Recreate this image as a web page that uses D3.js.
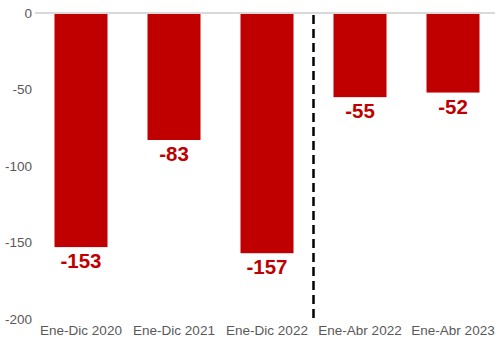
<!DOCTYPE html>
<html><head><meta charset="utf-8">
<script src="https://cdn.jsdelivr.net/npm/d3@7"></script>
<style>body{margin:0;background:#fff}svg{display:block}</style>
</head><body>
<script>
const categories = ["Ene-Dic 2020","Ene-Dic 2021","Ene-Dic 2022","Ene-Abr 2022","Ene-Abr 2023"];
const values = [-153,-83,-157,-55,-52];
const yTicks = [0,-50,-100,-150,-200];

const W=495,H=340;
const svg=d3.select("body").append("svg").attr("width",W).attr("height",H);
const x=d3.scaleBand().domain(categories).range([34.5,499.5]).paddingInner(0.43).paddingOuter(0.215);
const y=d3.scaleLinear().domain([0,-200]).range([13,319]);
const font="Liberation Sans, Arial, sans-serif";

// y axis labels
svg.append("g").selectAll("text").data(yTicks).join("text")
 .attr("x",32).attr("y",d=>y(d)).attr("dy","0.35em").attr("text-anchor","end")
 .attr("font-family",font).attr("font-size",13.5).attr("fill","#595959").text(d=>d);

// bars
svg.append("g").selectAll("rect").data(values).join("rect")
 .attr("x",(d,i)=>x(categories[i])).attr("width",x.bandwidth())
 .attr("y",y(0)).attr("height",d=>y(d)-y(0)).attr("fill","#c00000");

// zero line
svg.append("line").attr("x1",35).attr("x2",W).attr("y1",y(0)).attr("y2",y(0))
 .attr("stroke","#d9d9d9").attr("stroke-width",2);

// value labels
svg.append("g").selectAll("text").data(values).join("text")
 .attr("x",(d,i)=>x(categories[i])+x.bandwidth()/2).attr("y",d=>y(d)+21)
 .attr("text-anchor","middle").attr("font-family",font).attr("font-weight","bold")
 .attr("font-size",20.5).attr("fill","#c00000").text(d=>d);

// category labels
svg.append("g").selectAll("text").data(categories).join("text")
 .attr("x",d=>x(d)+x.bandwidth()/2).attr("y",335).attr("text-anchor","middle")
 .attr("font-family",font).attr("font-size",13.5).attr("fill","#595959").text(d=>d);

// divider dashed line
const xd=(x(categories[2])+x.bandwidth()+x(categories[3]))/2;
svg.append("line").attr("x1",xd).attr("x2",xd).attr("y1",y(0)+2).attr("y2",322)
 .attr("stroke","#000").attr("stroke-width",2.5).attr("stroke-dasharray","9,5");
</script>
</body></html>
